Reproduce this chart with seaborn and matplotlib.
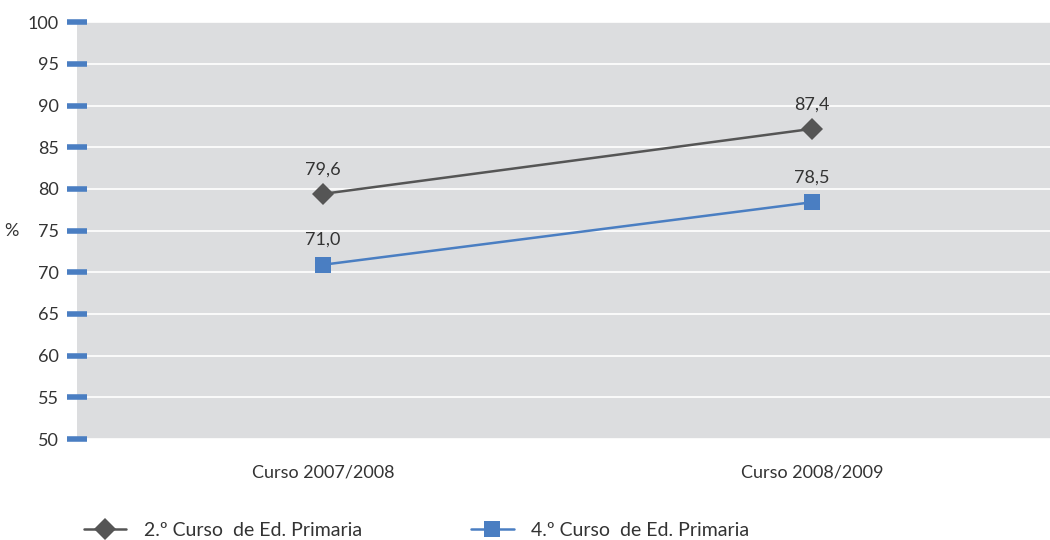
import matplotlib
matplotlib.use("Agg")
import matplotlib.pyplot as plt
import seaborn as sns
import pandas as pd

categories = ["Curso 2007/2008", "Curso 2008/2009"]
series_names = ["2.º Curso  de Ed. Primaria", "4.º Curso  de Ed. Primaria"]
values_2 = [79.4, 87.2]
values_4 = [70.9, 78.4]
labels_2 = ["79,6", "87,4"]
labels_4 = ["71,0", "78,5"]
yticks = [50, 55, 60, 65, 70, 75, 80, 85, 90, 95, 100]

sns.set_theme(style="white")
plt.rcParams['font.family'] = ['Lato', 'DejaVu Sans']
text_color = "#333333"

df = pd.DataFrame({
    "x": list(range(len(categories))) * 2,
    "value": values_2 + values_4,
    "serie": [series_names[0]] * 2 + [series_names[1]] * 2,
})

colors = {series_names[0]: "#555555", series_names[1]: "#4A7EC2"}
markers = {series_names[0]: "D", series_names[1]: "s"}

fig = plt.figure(figsize=(10.5, 5.4), dpi=100)
ax = fig.add_axes([0.0733, 0.187, 0.9267, 0.772])
ax.set_facecolor("#DCDDDF")

sns.lineplot(data=df, x="x", y="value", hue="serie", style="serie",
             palette=colors, markers=markers, dashes=False, markersize=11,
             linewidth=1.8, markeredgewidth=0, ax=ax, legend=False)

for i in range(len(categories)):
    ax.annotate(labels_2[i], (i, values_2[i]), xytext=(0, 12), textcoords="offset points",
                ha="center", va="bottom", fontsize=13, color=text_color)
    ax.annotate(labels_4[i], (i, values_4[i]), xytext=(0, 12), textcoords="offset points",
                ha="center", va="bottom", fontsize=13, color=text_color)

ax.set_xlim(-0.503, 1.487)
ax.set_ylim(50, 100)
ax.set_yticks(yticks)
ax.set_yticklabels([str(v) for v in yticks], fontsize=13, color=text_color)
ax.set_xticks(range(len(categories)))
ax.set_xticklabels(categories, fontsize=13, color=text_color)
ax.tick_params(axis="x", length=0, pad=18)
ax.tick_params(axis="y", left=True, direction="inout", length=14, width=4,
               color="#4A7EC2", pad=6)
ax.yaxis.grid(True, color="white", linewidth=1.2)
ax.xaxis.grid(False)
ax.set_axisbelow(True)
for s in ax.spines.values():
    s.set_visible(False)
ax.set_xlabel("")
ax.set_ylabel("%", rotation=0, fontsize=13, color=text_color, labelpad=12, va="center")

handles = [
    plt.Line2D([], [], color=colors[series_names[0]], marker="D", markersize=11,
               markeredgewidth=0, linewidth=1.8),
    plt.Line2D([], [], color=colors[series_names[1]], marker="s", markersize=11,
               markeredgewidth=0, linewidth=1.8),
]
leg = fig.legend(handles, series_names, loc="lower left", bbox_to_anchor=(0.063, -0.03),
                 ncol=2, frameon=False, fontsize=14, handlelength=2.2, columnspacing=5.6,
                 handletextpad=0.9, labelcolor=text_color)

fig.savefig("out.png", dpi=100)
